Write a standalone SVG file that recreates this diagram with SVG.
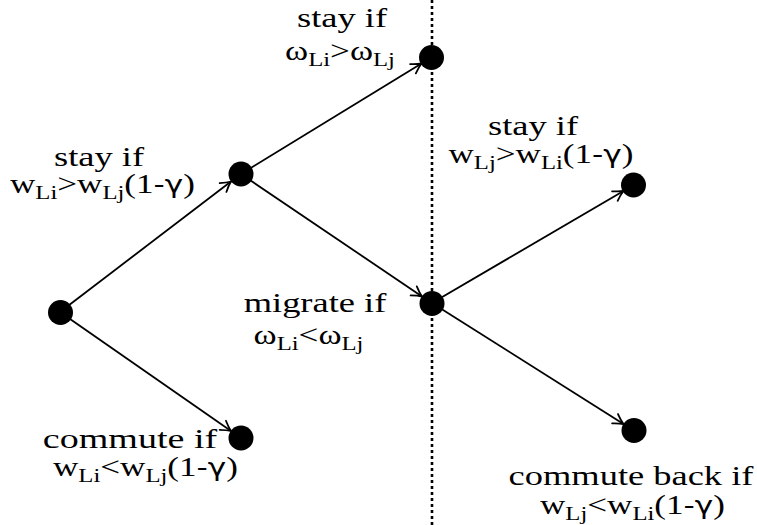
<svg xmlns="http://www.w3.org/2000/svg" width="757" height="525" viewBox="0 0 757 525">
<defs>
<style>
.bg{fill:#fff}
.node{fill:#000}
.edge{stroke:#000;stroke-width:1.8;fill:none;marker-end:url(#arr)}
.divider{stroke:#000;stroke-width:2.6;stroke-dasharray:3 3}
.lbl{font-family:"Liberation Serif","Times New Roman",serif;font-size:27px;fill:#000;text-anchor:middle}
.sub{font-size:19px}
.g{font-family:"DejaVu Sans",sans-serif;font-size:24px}
</style>
<marker id="arr" viewBox="-12 -7 14 14" refX="0" refY="0" markerWidth="14" markerHeight="14" markerUnits="userSpaceOnUse" orient="auto">
<path d="M -10,-5.5 Q -4,-1.5 0,0 Q -4,1.5 -10,5.5" fill="none" stroke="#000" stroke-width="1.8" stroke-linecap="round"/>
</marker>
</defs>
<rect class="bg" x="0" y="0" width="757" height="525"/>
<line class="divider" x1="432" y1="0" x2="432" y2="525"/>
<g id="connectors">
<line class="edge" x1="60" y1="312" x2="231" y2="181.5"/>
<line class="edge" x1="60" y1="312" x2="231" y2="431"/>
<line class="edge" x1="241" y1="174" x2="421.5" y2="63.5"/>
<line class="edge" x1="241" y1="174" x2="422" y2="296.5"/>
<line class="edge" x1="432" y1="303" x2="623.5" y2="191"/>
<line class="edge" x1="432" y1="303" x2="623.5" y2="424"/>
</g>
<g id="nodeA"><circle class="node" cx="60.5" cy="312.5" r="12.5"/></g>
<g id="nodeB"><circle class="node" cx="241" cy="174" r="12.5"/>
<text class="lbl" transform="translate(99,166) scale(1.35,1)">stay if</text>
<text class="lbl" transform="translate(102.5,193) scale(1.3,1)">w<tspan class="sub" dy="6">Li</tspan><tspan dy="-6">&gt;w</tspan><tspan class="sub" dy="6">Lj</tspan><tspan dy="-6">(1</tspan><tspan class="g">-γ</tspan>)</text>
</g>
<g id="nodeC"><circle class="node" cx="431.5" cy="57.5" r="12.5"/>
<text class="lbl" transform="translate(342,27) scale(1.35,1)">stay if</text>
<text class="lbl" transform="translate(340,60) scale(1.3,1)">ω<tspan class="sub" dy="6">Li</tspan><tspan dy="-6">&gt;ω</tspan><tspan class="sub" dy="6">Lj</tspan></text>
</g>
<g id="nodeD"><circle class="node" cx="432" cy="303.5" r="12.5"/>
<text class="lbl" transform="translate(315,312) scale(1.35,1)">migrate if</text>
<text class="lbl" transform="translate(308.5,344) scale(1.3,1)">ω<tspan class="sub" dy="6">Li</tspan><tspan dy="-6">&lt;ω</tspan><tspan class="sub" dy="6">Lj</tspan></text>
</g>
<g id="nodeE"><circle class="node" cx="633.5" cy="185" r="12.5"/>
<text class="lbl" transform="translate(533,135) scale(1.35,1)">stay if</text>
<text class="lbl" transform="translate(541,163) scale(1.3,1)">w<tspan class="sub" dy="6">Lj</tspan><tspan dy="-6">&gt;w</tspan><tspan class="sub" dy="6">Li</tspan><tspan dy="-6">(1</tspan><tspan class="g">-γ</tspan>)</text>
</g>
<g id="nodeF"><circle class="node" cx="241" cy="438" r="12.5"/>
<text class="lbl" transform="translate(130,448) scale(1.41,1)">commute if</text>
<text class="lbl" transform="translate(145.5,476) scale(1.3,1)">w<tspan class="sub" dy="6">Li</tspan><tspan dy="-6">&lt;w</tspan><tspan class="sub" dy="6">Lj</tspan><tspan dy="-6">(1</tspan><tspan class="g">-γ</tspan>)</text>
</g>
<g id="nodeG"><circle class="node" cx="634" cy="430.5" r="12.5"/>
<text class="lbl" transform="translate(631,485) scale(1.35,1)">commute back if</text>
<text class="lbl" transform="translate(632.5,514) scale(1.3,1)">w<tspan class="sub" dy="6">Lj</tspan><tspan dy="-6">&lt;w</tspan><tspan class="sub" dy="6">Li</tspan><tspan dy="-6">(1</tspan><tspan class="g">-γ</tspan>)</text>
</g>
</svg>
